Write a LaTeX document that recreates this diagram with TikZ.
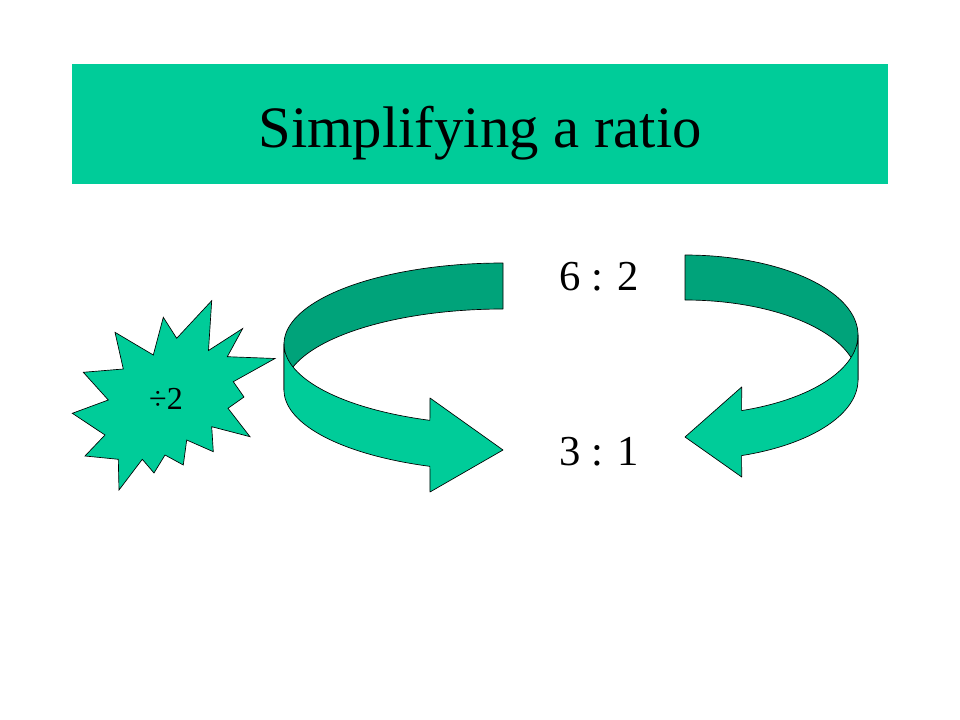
\documentclass[tikz,border=0pt]{standalone}
\usepackage{fontspec}
\setmainfont{Liberation Serif}
\usetikzlibrary{positioning}
\definecolor{seagreen}{RGB}{0,204,153}
\definecolor{darkseagreen}{RGB}{0,163,122}

\begin{document}
\begin{tikzpicture}[x=0.75pt,y=-0.75pt,
    ribbonlight/.style={draw=black, line width=0.5pt, fill=seagreen, line join=round},
    ribbondark/.style={draw=black, line width=0.5pt, fill=darkseagreen, line join=round},
    burst/.style={draw=black, line width=0.5pt, fill=seagreen, line join=miter},
    ratio/.style={font=\fontsize{32}{38}\selectfont, anchor=base, inner sep=0pt}]
    \useasboundingbox[fill=white] (0,0) rectangle (960,720);
    \node (titlebar) [fill=seagreen, minimum width=612pt, minimum height=90pt, inner sep=0pt] at (480,124) {};
    \node (title) [anchor=base, font=\fontsize{44}{52}\selectfont, inner sep=0pt] at (480,148) {Simplifying a ratio};
    % left arrow: back band, then front band with head
    \draw[ribbondark, variable=\t, samples=60] plot[domain=270:180] ({503+219*cos(\t)},{344+81*sin(\t)})
        -- plot[domain=180:270] ({503+219*cos(\t)},{390+81*sin(\t)}) -- cycle;
    \draw[ribbonlight, variable=\t, samples=60] plot[domain=180:109.5] ({503+219*cos(\t)},{344+81*sin(\t)})
        -- (430,398) -- (503,450) -- (430,492)
        -- plot[domain=109.5:180] ({503+219*cos(\t)},{390+81*sin(\t)}) -- cycle;
    % right arrow
    \draw[ribbondark, variable=\t, samples=60] plot[domain=270:360] ({685+173*cos(\t)},{335+80*sin(\t)})
        -- plot[domain=360:270] ({685+173*cos(\t)},{380+80*sin(\t)}) -- cycle;
    \draw[ribbonlight, variable=\t, samples=60] plot[domain=0:70.9] ({685+173*cos(\t)},{335+80*sin(\t)})
        -- (741.7,387) -- (685,437) -- (741.7,477)
        -- plot[domain=70.9:0] ({685+173*cos(\t)},{380+80*sin(\t)}) -- cycle;
    % explosion
    \draw[burst] (211.7,300.7) -- (208.5,350.5) -- (242.7,328.5) -- (227.3,356.7) -- (275,358.5)
        -- (233.3,381.7) -- (244,397) -- (228,408.3) -- (250,436.7) -- (211.7,426.7)
        -- (213.3,451.7) -- (186.7,440) -- (183.3,465) -- (165,455) -- (154,473)
        -- (142.3,459.3) -- (119,490) -- (118.3,459.3) -- (85,456) -- (105,435)
        -- (72.3,413.3) -- (108.3,400) -- (83.3,372.3) -- (123.3,369) -- (115,332.3)
        -- (153.3,355) -- (163.3,317.3) -- (176.7,338.3) -- cycle;
    \node (divide) [anchor=base, font=\fontsize{24}{29}\selectfont, inner sep=0pt] at (166,409) {÷2};
    \node (ratiotop) [ratio] at (599,291) {6 : 2};
    \node (ratiobottom) [ratio, below=130.5pt of ratiotop.base, anchor=base] {3 : 1};
\end{tikzpicture}
\end{document}
